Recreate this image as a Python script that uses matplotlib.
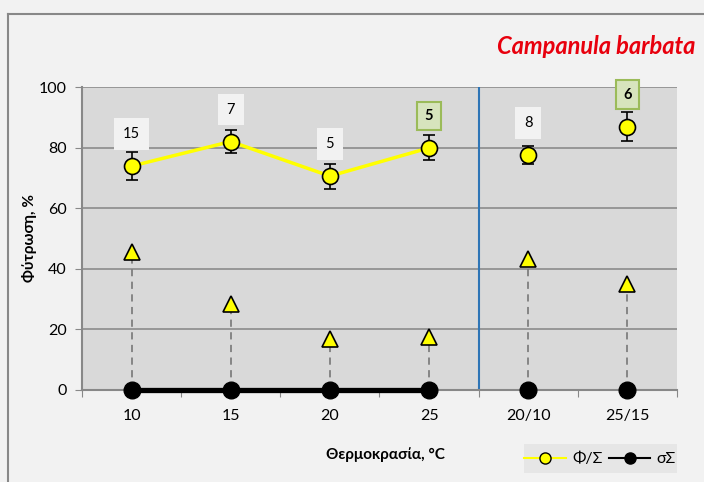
import numpy as np
import matplotlib
matplotlib.use("Agg")
import matplotlib.pyplot as plt
from matplotlib.patches import Rectangle
from matplotlib.lines import Line2D

plt.rcParams['font.family'] = ['Lato', 'DejaVu Sans']

categories = ['10', '15', '20', '25', '20/10', '25/15']
germ = [73.9, 82.0, 70.6, 79.9, 77.5, 86.9]        # Φ/Σ
germ_err = [4.6, 3.8, 4.1, 4.1, 2.9, 4.7]
tri = [45.4, 28.4, 16.8, 17.4, 43.2, 35.0]
sigma = [0, 0, 0, 0, 0, 0]                          # σΣ
n_labels = ['15', '7', '5', '5', '8', '6']
n_bold = [False, False, False, True, False, True]

x = np.arange(len(categories))

fig = plt.figure(figsize=(7.04, 4.82), dpi=100, facecolor='#f2f2f2')
ax = fig.add_axes([0.1165, 0.1909, 0.845, 0.6286])
ax.set_facecolor('#d9d9d9')

# outer frame (left and top edges only visible)
fig.add_artist(Line2D([8/704, 8/704], [0, 1 - 14/482], transform=fig.transFigure,
                      color='#888888', lw=1.5))
fig.add_artist(Line2D([8/704, 1], [1 - 14/482, 1 - 14/482], transform=fig.transFigure,
                      color='#888888', lw=1.5))

ax.set_xlim(-0.5, len(categories) - 0.5)
ax.set_ylim(0, 100)
ax.set_yticks(np.arange(0, 101, 20))
ax.yaxis.grid(True, color='#8c8c8c', lw=1.2)
ax.set_axisbelow(True)
ax.set_xticks(np.arange(-0.5, len(categories)), minor=False)
ax.set_xticklabels([])
ax.set_xticks(x, minor=True)
ax.set_xticklabels(categories, minor=True, fontsize=11.5)
ax.tick_params(axis='x', which='minor', length=0, pad=14)
ax.tick_params(axis='x', which='major', length=5, color='#888888', direction='out')
ax.tick_params(axis='y', length=5, color='#888888', labelsize=11.5, pad=6)
for s in ['top', 'right']:
    ax.spines[s].set_visible(False)
for s in ['left', 'bottom']:
    ax.spines[s].set_color('#888888')
    ax.spines[s].set_linewidth(1.5)

# separator between constant and alternating temperatures
ax.axvline(3.5, color='#2e75b6', lw=1.5)

# dashed drop lines and triangles
ax.vlines(x, sigma, tri, colors='#7f7f7f', linestyles=(0, (4, 3)), lw=1.3, zorder=2)
ax.plot(x, tri, linestyle='none', marker='^', ms=12, mfc='#ffff00', mec='black',
        mew=1.2, zorder=4)

# σΣ series
ax.plot(x[:4], sigma[:4], color='black', lw=3.8, zorder=5, clip_on=False)
ax.plot(x, sigma, linestyle='none', marker='o', ms=12, mfc='black', mec='black',
        zorder=6, clip_on=False)

# Φ/Σ series
ax.plot(x[:4], germ[:4], color='#ffff00', lw=2.5, zorder=5)
ax.errorbar(x, germ, yerr=germ_err, fmt='none', ecolor='black', elinewidth=1.2,
            capsize=4, capthick=1.2, zorder=6)
ax.plot(x, germ, linestyle='none', marker='o', ms=11.5, mfc='#ffff00', mec='black',
        mew=1.2, zorder=7)

for xi, yi, lab, b in zip(x, germ, n_labels, n_bold):
    if b:
        bbox = dict(boxstyle='square,pad=0.5', fc='#d7e4bd', ec='#9bbb59', lw=1.5)
        ax.annotate(lab, (xi, yi), xytext=(0, 23), textcoords='offset points',
                    ha='center', va='center', fontsize=10.5, fontweight='bold', bbox=bbox,
                    zorder=8)
    else:
        bbox = dict(boxstyle='square,pad=0.6', fc='#f2f2f2', ec='none')
        ax.annotate(lab, (xi, yi), xytext=(0, 23), textcoords='offset points',
                    ha='center', va='center', fontsize=10.5, bbox=bbox, zorder=8)

ax.set_ylabel('Φύτρωση, %', fontsize=11, fontweight='bold', labelpad=1)
fig.text(385/704, 1 - 455/482, 'Θερμοκρασία, °C', ha='center', va='center',
         fontsize=11, fontweight='bold')
fig.text(695/704, 1 - 47/482, 'Campanula barbata', ha='right', va='center',
         fontsize=17, fontweight='bold', style='italic', color='#e8000d')

# legend
fig.add_artist(Rectangle((524/704, 1 - 473/482), 153/704, 29/482,
                         transform=fig.transFigure, fc='#e6e6e6', ec='none'))
handles = [Line2D([], [], color='#ffff00', lw=1.5, marker='o', ms=8, mfc='#ffff00',
                  mec='black'),
           Line2D([], [], color='black', lw=1.5, marker='o', ms=8, mfc='black',
                  mec='black')]
fig.legend(handles, ['Φ/Σ', 'σΣ'], loc='center', bbox_to_anchor=(600/704, 1 - 459/482),
           ncol=2, frameon=False, fontsize=11.5, handlelength=2.6, columnspacing=0.4,
           handletextpad=0.4)

fig.savefig('out.png', dpi=100, facecolor=fig.get_facecolor())
